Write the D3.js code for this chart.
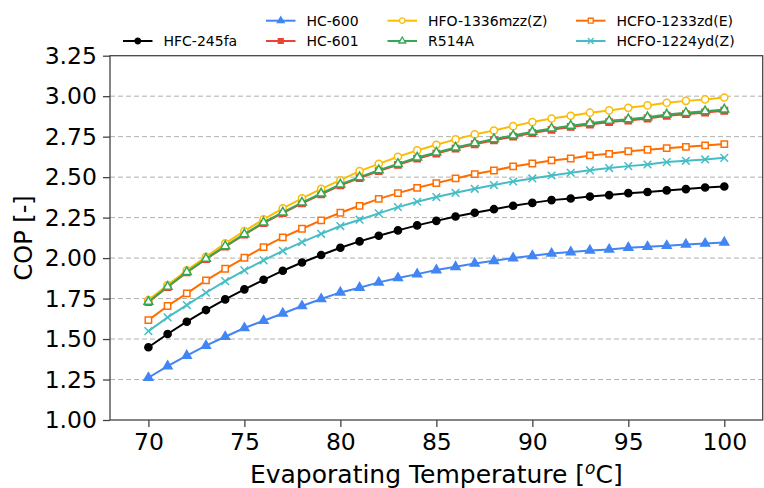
<!DOCTYPE html>
<meta charset="utf-8">
<style>
body {
  margin: 0;
  font-family: "DejaVu Sans", sans-serif;
  background: #fff;
}
svg { display: block; }
.grid line { stroke: #b0b0b0; stroke-width: 1; stroke-dasharray: 5,3; }
.axis text { font-size: 23.5px; fill: #000; font-family: "DejaVu Sans", sans-serif; }
.axis path, .axis line { stroke: #444; stroke-width: 1.3; }
.label { font-size: 24px; fill: #000; }
.legend text { font-size: 14px; fill: #000; }
</style>
<body>
<script src="https://d3js.org/d3.v7.min.js"></script>
<script>

let temps = [70, 71, 72, 73, 74, 75, 76, 77, 78, 79, 80, 81, 82, 83, 84, 85,
             86, 87, 88, 89, 90, 91, 92, 93, 94, 95, 96, 97, 98, 99, 100];

let hfc245fa = [1.449, 1.531, 1.607, 1.679, 1.745, 1.807, 1.866, 1.922, 1.973, 2.019, 2.064,
                2.103, 2.138, 2.171, 2.202, 2.230, 2.257, 2.280, 2.302, 2.323, 2.341,
                2.358, 2.368, 2.380, 2.389, 2.401, 2.408, 2.418, 2.426, 2.436, 2.442];
let hc600 = [1.261, 1.333, 1.397, 1.459, 1.514, 1.568, 1.613, 1.658, 1.704, 1.747, 1.788,
             1.817, 1.850, 1.877, 1.901, 1.926, 1.946, 1.967, 1.983, 2.000, 2.014,
             2.028, 2.037, 2.047, 2.053, 2.064, 2.070, 2.076, 2.084, 2.090, 2.097];
let hc601 = [1.728, 1.821, 1.912, 1.994, 2.071, 2.145, 2.216, 2.278, 2.338, 2.394, 2.449,
             2.494, 2.537, 2.576, 2.614, 2.645, 2.676, 2.703, 2.728, 2.750, 2.772,
             2.792, 2.810, 2.825, 2.840, 2.850, 2.862, 2.879, 2.889, 2.899, 2.910];
let hfo1336 = [1.741, 1.833, 1.924, 2.008, 2.091, 2.167, 2.239, 2.307, 2.369, 2.428, 2.481,
               2.537, 2.582, 2.626, 2.665, 2.700, 2.733, 2.764, 2.788, 2.815, 2.840,
               2.862, 2.879, 2.898, 2.912, 2.928, 2.943, 2.959, 2.971, 2.980, 2.992];
let r514a = [1.730, 1.823, 1.914, 1.996, 2.074, 2.148, 2.220, 2.282, 2.343, 2.399, 2.455,
             2.500, 2.543, 2.582, 2.621, 2.652, 2.683, 2.710, 2.735, 2.757, 2.780,
             2.800, 2.818, 2.833, 2.848, 2.858, 2.870, 2.887, 2.897, 2.907, 2.918];
let hcfo1233 = [1.617, 1.704, 1.782, 1.862, 1.934, 2.002, 2.068, 2.128, 2.181, 2.233, 2.280,
                2.323, 2.366, 2.401, 2.434, 2.463, 2.492, 2.519, 2.541, 2.566, 2.584,
                2.603, 2.615, 2.634, 2.644, 2.660, 2.669, 2.679, 2.687, 2.696, 2.704];
let hcfo1224 = [1.549, 1.634, 1.710, 1.786, 1.858, 1.924, 1.986, 2.045, 2.099, 2.150, 2.198,
                2.237, 2.276, 2.315, 2.348, 2.377, 2.403, 2.428, 2.451, 2.473, 2.492,
                2.510, 2.527, 2.542, 2.556, 2.568, 2.578, 2.593, 2.601, 2.609, 2.619];

let xTicks = [70, 75, 80, 85, 90, 95, 100];
let yTicks = [1.00, 1.25, 1.50, 1.75, 2.00, 2.25, 2.50, 2.75, 3.00, 3.25];

// name, values, colour, marker, filled, legend column, legend row
let series = [
  {name: "HFC-245fa",      values: hfc245fa, color: "#000000", marker: "circle",   filled: true,  col: 0, row: 1},
  {name: "HC-600",         values: hc600,    color: "#4285f4", marker: "triangle", filled: true,  col: 1, row: 0},
  {name: "HC-601",         values: hc601,    color: "#ea4335", marker: "square",   filled: true,  col: 1, row: 1},
  {name: "HFO-1336mzz(Z)", values: hfo1336,  color: "#fbbc04", marker: "circle",   filled: false, col: 2, row: 0},
  {name: "R514A",          values: r514a,    color: "#34a853", marker: "triangle", filled: false, col: 2, row: 1},
  {name: "HCFO-1233zd(E)", values: hcfo1233, color: "#ff6d01", marker: "square",   filled: false, col: 3, row: 0},
  {name: "HCFO-1224yd(Z)", values: hcfo1224, color: "#46bdc6", marker: "x",        filled: false, col: 3, row: 1}
];

let width = 764, height = 488;
let mLeft = 110, mRight = 762.7, mTop = 55.7, mBottom = 420;

let svg = d3.select("body").append("svg")
  .attr("width", width)
  .attr("height", height);

let x = d3.scaleLinear().domain([68, 102]).range([mLeft, mRight]);
let y = d3.scaleLinear().domain([1, 3.25]).range([mBottom, mTop]);

// dashed horizontal grid
svg.append("g")
  .attr("class", "grid")
  .selectAll("line")
  .data(yTicks.filter(function(d) { return d > 1 && d < 3.25; }))
  .enter().append("line")
  .attr("x1", mLeft).attr("x2", mRight)
  .attr("y1", function(d) { return y(d); })
  .attr("y2", function(d) { return y(d); });

let symbolType = {
  circle: d3.symbolCircle,
  triangle: d3.symbolTriangle,
  square: d3.symbolSquare,
  x: d3.symbolX
};
let symbolSize = {circle: 40, triangle: 34, square: 40, x: 40};

let line = d3.line()
  .x(function(d) { return x(d[0]); })
  .y(function(d) { return y(d[1]); });

series.forEach(function(s) {
  let pts = temps.map(function(t, i) { return [t, s.values[i]]; });
  let g = svg.append("g");
  g.append("path")
    .datum(pts)
    .attr("d", line)
    .attr("fill", "none")
    .attr("stroke", s.color)
    .attr("stroke-width", 2);
  g.selectAll("path.mark")
    .data(pts)
    .enter().append("path")
    .attr("class", "mark")
    .attr("transform", function(d) { return "translate(" + x(d[0]) + "," + y(d[1]) + ")"; })
    .attr("d", d3.symbol().type(symbolType[s.marker]).size(symbolSize[s.marker]))
    .attr("fill", s.marker === "x" ? "none" : (s.filled ? s.color : "#fff"))
    .attr("stroke", s.color)
    .attr("stroke-width", 1.5);
});

// axes
let xAxis = svg.append("g")
  .attr("class", "axis")
  .attr("transform", "translate(0," + mBottom + ")")
  .call(d3.axisBottom(x).tickValues(xTicks).tickSize(7).tickPadding(6).tickSizeOuter(0));
xAxis.select(".domain").remove();

let yAxis = svg.append("g")
  .attr("class", "axis")
  .attr("transform", "translate(" + mLeft + ",0)")
  .call(d3.axisLeft(y).tickValues(yTicks).tickFormat(d3.format(".2f")).tickSize(7).tickPadding(6).tickSizeOuter(0));
yAxis.select(".domain").remove();

// frame
svg.append("rect")
  .attr("x", mLeft).attr("y", mTop)
  .attr("width", mRight - mLeft).attr("height", mBottom - mTop)
  .attr("fill", "none")
  .attr("stroke", "#444")
  .attr("stroke-width", 1.3);

// axis labels
let xl = svg.append("text")
  .attr("class", "label")
  .attr("x", (mLeft + mRight) / 2)
  .attr("y", 483)
  .style("font-size", "25px")
  .attr("text-anchor", "middle");
xl.append("tspan").text("Evaporating Temperature [");
xl.append("tspan").attr("dy", -9).style("font-size", "17px").style("font-style", "italic").text("o");
xl.append("tspan").attr("dy", 9).text("C]");

svg.append("text")
  .attr("class", "label")
  .attr("transform", "translate(32," + ((mTop + mBottom) / 2) + ") rotate(-90)")
  .attr("text-anchor", "middle")
  .text("COP [-]");

// legend
let colX = [123, 266, 387.5, 576];
let rowY = [20.7, 41];
let legend = svg.append("g").attr("class", "legend");
series.forEach(function(s) {
  let lx = colX[s.col], ly = rowY[s.row];
  let g = legend.append("g");
  g.append("line")
    .attr("x1", lx).attr("x2", lx + 29.5)
    .attr("y1", ly).attr("y2", ly)
    .attr("stroke", s.color)
    .attr("stroke-width", 2);
  g.append("path")
    .attr("transform", "translate(" + (lx + 14.75) + "," + ly + ")")
    .attr("d", d3.symbol().type(symbolType[s.marker]).size(symbolSize[s.marker] * 0.6))
    .attr("fill", s.marker === "x" ? "none" : (s.filled ? s.color : "#fff"))
    .attr("stroke", s.color)
    .attr("stroke-width", 1.3);
  g.append("text")
    .attr("x", lx + 40.5)
    .attr("y", ly)
    .attr("dy", "0.35em")
    .text(s.name);
});

</script>
</body>
